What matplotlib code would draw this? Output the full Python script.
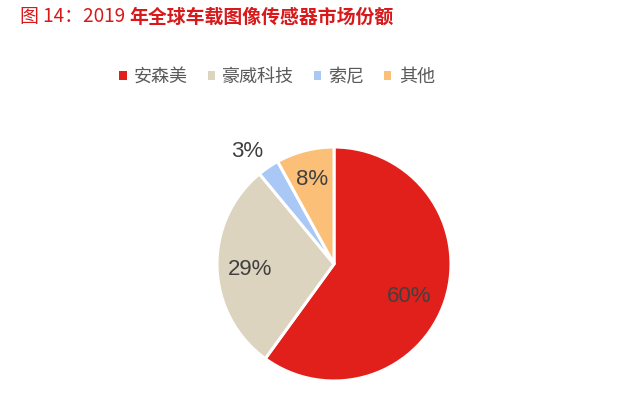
import matplotlib
matplotlib.use("Agg")
import matplotlib.pyplot as plt
from matplotlib.patches import Patch
import numpy as np

# -------- Data --------
companies = ["安森美", "豪威科技", "索尼", "其他"]
shares = [60, 29, 3, 8]
pct_labels = ["60%", "29%", "3%", "8%"]
colors = ["#e2201b", "#ddd4bf", "#a9c8f6", "#fbbf78"]

title_a = "图 14：2019 "
title_b = "年全球车载图像传感器市场份额"

plt.rcParams['font.family'] = ['Noto Sans CJK SC', 'DejaVu Sans']

fig = plt.figure(figsize=(6.4, 4.11), dpi=100)

# -------- Title (regular part + bold part) --------
t1 = fig.text(20 / 640, 1 - 17 / 411, title_a, color="#d7191c", fontsize=13.6,
              va="center", ha="left")
fig.canvas.draw()
bb = t1.get_window_extent(renderer=fig.canvas.get_renderer())
fig.text(bb.x1 / 640, 1 - 17 / 411, title_b, color="#d7191c", fontsize=13.6,
         fontweight="bold", va="center", ha="left")

# -------- Pie --------
lim = 1.25
r_px = 117
cx, cy = 334, 411 - 264
size = 2 * lim * r_px
ax = fig.add_axes([(cx - size / 2) / 640, (cy - size / 2) / 411, size / 640, size / 411])
wedges, _ = ax.pie(shares, colors=colors, startangle=90, counterclock=False,
                   wedgeprops=dict(edgecolor="white", linewidth=2.2))
ax.set_xlim(-lim, lim)
ax.set_ylim(-lim, lim)
ax.set_aspect("equal")
ax.axis("off")

# label distance from centre and small angle nudge (degrees)
dists = [0.70, 0.72, 1.21, 0.75]
nudges = [-5, 2, 3.5, 0]
for w, lab, d, n in zip(wedges, pct_labels, dists, nudges):
    mid = np.deg2rad((w.theta1 + w.theta2) / 2 + n)
    ax.text(d * np.cos(mid), d * np.sin(mid), lab, ha="center", va="center",
            fontsize=16, color="#404040", family=["Liberation Sans", "DejaVu Sans"])

# -------- Legend --------
handles = [Patch(facecolor=c, edgecolor="none") for c in colors]
fig.legend(handles, companies, loc="center", bbox_to_anchor=(277 / 640, 1 - 77 / 411),
           ncol=4, frameon=False, fontsize=13, labelcolor="#595959",
           handlelength=0.4, handleheight=0.4, handletextpad=0.4, columnspacing=1.1)

fig.savefig("out.png", dpi=100)
